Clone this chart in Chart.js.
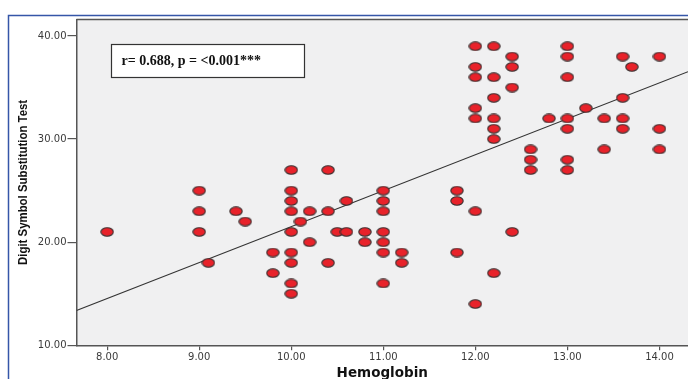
<!DOCTYPE html>
<html>
<head>
<meta charset="utf-8">
<script src="https://cdn.jsdelivr.net/npm/chart.js@4.4.0/dist/chart.umd.min.js"></script>
<style>
  html, body { margin: 0; padding: 0; background: #ffffff; }
  canvas { display: block; }
</style>
</head>
<body>
<canvas id="c" width="688" height="379"></canvas>
<script>
// ---- data ----
const hemoglobin = [
  8.0, 9.0, 9.0, 9.0, 9.1, 9.4, 9.5, 9.8, 9.8,
  10.0, 10.0, 10.0, 10.0, 10.0, 10.0, 10.0, 10.0, 10.0,
  10.1, 10.2, 10.2, 10.4, 10.4, 10.4, 10.5, 10.6, 10.6, 10.8, 10.8,
  11.0, 11.0, 11.0, 11.0, 11.0, 11.0, 11.0, 11.2, 11.2,
  11.8, 11.8, 11.8,
  12.0, 12.0, 12.0, 12.0, 12.0, 12.0, 12.0,
  12.2, 12.2, 12.2, 12.2, 12.2, 12.2, 12.2,
  12.4, 12.4, 12.4, 12.4, 12.6, 12.6, 12.6, 12.8,
  13.0, 13.0, 13.0, 13.0, 13.0, 13.0, 13.0,
  13.2, 13.4, 13.4, 13.6, 13.6, 13.6, 13.6, 13.7,
  14.0, 14.0, 14.0
];
const dsst = [
  21, 25, 23, 21, 18, 23, 22, 19, 17,
  27, 25, 24, 23, 21, 19, 18, 16, 15,
  22, 23, 20, 27, 23, 18, 21, 24, 21, 21, 20,
  25, 24, 23, 21, 20, 19, 16, 19, 18,
  25, 24, 19,
  39, 37, 36, 33, 32, 23, 14,
  39, 36, 34, 32, 31, 30, 17,
  38, 37, 35, 21, 29, 28, 27, 32,
  39, 38, 36, 32, 31, 28, 27,
  33, 32, 29, 38, 34, 32, 31, 37,
  38, 31, 29
];
const fitIntercept = -13.35;
const fitSlope = 3.486;
const xTicks = [8, 9, 10, 11, 12, 13, 14];
const yTicks = [10, 20, 30, 40];
const xRange = [7.667, 14.31];
const yRange = [10, 41.6];
const annotationText = 'r= 0.688, p = <0.001***';
const xTitle = 'Hemoglobin';
const yTitle = 'Digit Symbol Substitution Test';

// ---- build datasets ----
const scatterPoints = hemoglobin.map((h, i) => ({ x: h, y: dsst[i] }));
const fitPoints = xRange.map(x => ({ x: x, y: fitIntercept + fitSlope * x }));

// ellipse marker
const marker = document.createElement('canvas');
marker.width = 14; marker.height = 10;
(function () {
  const m = marker.getContext('2d');
  m.beginPath();
  m.ellipse(7, 5, 6.2, 4.2, 0, 0, Math.PI * 2);
  m.fillStyle = '#e8222a';
  m.fill();
  m.lineWidth = 1.1;
  m.strokeStyle = '#3a3030';
  m.stroke();
})();

const decor = {
  id: 'decor',
  beforeDraw(chart) {
    const { ctx, chartArea: a } = chart;
    ctx.save();
    ctx.fillStyle = '#f0f0f1';
    ctx.fillRect(a.left, a.top, a.right - a.left, a.bottom - a.top);
    ctx.restore();
  },
  afterDraw(chart) {
    const { ctx, chartArea: a } = chart;
    ctx.save();
    // top frame line of plot
    ctx.strokeStyle = '#555555';
    ctx.lineWidth = 1.5;
    ctx.beginPath();
    ctx.moveTo(a.left, a.top);
    ctx.lineTo(a.right, a.top);
    ctx.stroke();
    // outer blue frame
    ctx.strokeStyle = '#3556a8';
    ctx.lineWidth = 1.5;
    ctx.beginPath();
    ctx.moveTo(8.5, chart.height);
    ctx.lineTo(8.5, 15.5);
    ctx.lineTo(chart.width, 15.5);
    ctx.stroke();
    // y axis title (narrow bold, fitted to the reference length)
    ctx.save();
    ctx.translate(23, (a.top + a.bottom) / 2);
    ctx.rotate(-Math.PI / 2);
    ctx.font = 'bold 13.5px "Liberation Sans", Arial, sans-serif';
    const w = ctx.measureText(yTitle).width;
    ctx.scale(165 / w, 1);
    ctx.fillStyle = '#111111';
    ctx.textAlign = 'center';
    ctx.textBaseline = 'middle';
    ctx.fillText(yTitle, 0, 0);
    ctx.restore();
    // annotation box
    const bx = a.left + 35, by = a.top + 25, bw = 193, bh = 33;
    ctx.fillStyle = '#ffffff';
    ctx.fillRect(bx, by, bw, bh);
    ctx.strokeStyle = '#333333';
    ctx.lineWidth = 1.2;
    ctx.strokeRect(bx, by, bw, bh);
    ctx.fillStyle = '#111111';
    ctx.font = 'bold 14px "Liberation Serif", "Times New Roman", serif';
    ctx.textBaseline = 'middle';
    ctx.textAlign = 'left';
    ctx.fillText(annotationText, bx + 10, by + bh / 2 + 0.5);
    ctx.restore();
  }
};

new Chart(document.getElementById('c'), {
  type: 'scatter',
  data: {
    datasets: [
      {
        data: scatterPoints,
        pointStyle: marker,
        pointRadius: 6,
        pointHoverRadius: 6,
        order: 1
      },
      {
        type: 'line',
        data: fitPoints,
        borderColor: '#333333',
        borderWidth: 1.2,
        pointRadius: 0,
        fill: false,
        tension: 0,
        order: 2
      }
    ]
  },
  options: {
    responsive: false,
    animation: false,
    events: [],
    layout: { autoPadding: false, padding: { left: 0, top: 19.5, right: 0, bottom: 0 } },
    plugins: { legend: { display: false }, tooltip: { enabled: false } },
    scales: {
      x: {
        type: 'linear',
        min: xRange[0], max: xRange[1],
        afterBuildTicks: s => { s.ticks = xTicks.map(v => ({ value: v })); },
        afterFit: s => { s.height = 33.7; s.paddingLeft = 0; s.paddingRight = 0; },
        border: { display: true, color: '#555555', width: 1.5 },
        grid: { display: true, drawOnChartArea: false, drawTicks: true, tickLength: 5, color: '#555555', lineWidth: 1.2 },
        ticks: {
          padding: 1,
          color: '#3a3a3a',
          font: { family: '"DejaVu Sans", sans-serif', size: 10 },
          maxRotation: 0,
          callback: v => Number(v).toFixed(2)
        },
        title: {
          display: true, text: xTitle, color: '#111111',
          font: { family: '"DejaVu Sans", sans-serif', size: 13.5, weight: 'bold' },
          padding: { top: 0, bottom: -3 }
        }
      },
      y: {
        type: 'linear',
        min: yRange[0], max: yRange[1],
        afterBuildTicks: s => { s.ticks = yTicks.map(v => ({ value: v })); },
        afterFit: s => { s.width = 76.5; s.paddingTop = 0; s.paddingBottom = 0; },
        border: { display: true, color: '#555555', width: 1.5 },
        grid: { display: true, drawOnChartArea: false, drawTicks: true, tickLength: 9, color: '#555555', lineWidth: 1.2 },
        ticks: {
          padding: 1,
          color: '#3a3a3a',
          font: { family: '"DejaVu Sans", sans-serif', size: 10 },
          callback: v => Number(v).toFixed(2)
        },
        title: { display: false, text: yTitle }
      }
    }
  },
  plugins: [decor]
});
</script>
</body>
</html>
